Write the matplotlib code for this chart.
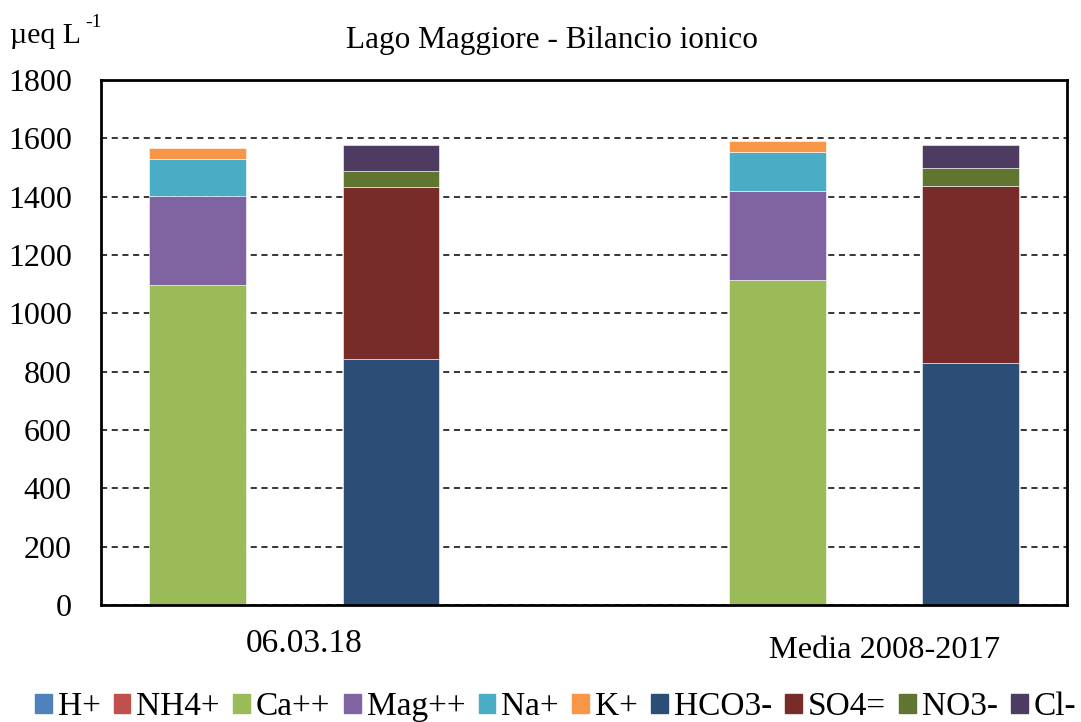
import matplotlib
matplotlib.use("Agg")
import matplotlib.pyplot as plt
from matplotlib.patches import Patch

plt.rcParams["font.family"] = ["Liberation Serif", "DejaVu Serif"]

# ionic balance, µeq/L
samples = ["06.03.18", "Media 2008-2017"]

cation_names = ["H+", "NH4+", "Ca++", "Mag++", "Na+", "K+"]
cations_0603 = [0.01, 1, 1097, 303, 129, 38]
cations_media = [0.01, 1, 1114, 305, 133, 39]

anion_names = ["HCO3-", "SO4=", "NO3-", "Cl-"]
anions_0603 = [843, 589, 58, 87]
anions_media = [830, 608, 59, 82]

cation_colors = ["#4F81BD", "#C0504D", "#9BBB59", "#8064A2", "#4BACC6", "#F79646"]
anion_colors = ["#2C4D75", "#772C2A", "#5F7530", "#4D3B62"]

fig = plt.figure(figsize=(10.81, 7.22), dpi=100)
ax = fig.add_axes([0.0934, 0.162, 0.894, 0.727])

cation_x = [0, 3]
anion_x = [1, 4]
width = 0.5


def stack(xs, columns, colors):
    bottoms = [0.0] * len(xs)
    for i, color in enumerate(colors):
        vals = [col[i] for col in columns]
        ax.bar(xs, vals, width, bottom=bottoms, color=color,
               edgecolor="white", linewidth=0.4, zorder=3)
        bottoms = [b + v for b, v in zip(bottoms, vals)]


stack(cation_x, [cations_0603, cations_media], cation_colors)
stack(anion_x, [anions_0603, anions_media], anion_colors)

ax.set_xlim(-0.5, 4.5)
ax.set_ylim(0, 1800)
ax.set_yticks(range(0, 1801, 200))
ax.set_xticks([])
ax.tick_params(axis="y", length=0, pad=21, labelsize=23)
ax.yaxis.grid(True, color="black", linestyle=(0, (4, 3)), linewidth=1.1, zorder=1)
for sp in ax.spines.values():
    sp.set_linewidth(2)
    sp.set_zorder(4)

# sample labels under each pair of bars
ax.text(0.55, -0.0895, samples[0], transform=ax.get_xaxis_transform(),
        ha="center", va="baseline", fontsize=24)
ax.text(3.555, -0.101, samples[1], transform=ax.get_xaxis_transform(),
        ha="center", va="baseline", fontsize=23.3)

fig.text(0.511, 0.9335, "Lago Maggiore - Bilancio ionico", ha="center",
         va="baseline", fontsize=22.5)
fig.text(0.009, 0.940, "µeq L", ha="left", va="baseline", fontsize=21.5)
fig.text(0.0785, 0.962, "-1", ha="left", va="baseline", fontsize=14)

handles = [Patch(color=c) for c in cation_colors + anion_colors]
fig.legend(handles, cation_names + anion_names, loc="center left",
           bbox_to_anchor=(0.02, 0.021), ncol=10, frameon=False,
           fontsize=24, handlelength=0.5, handleheight=0.5,
           handletextpad=0.18, columnspacing=0.4, borderaxespad=0)

fig.savefig("out.png", dpi=100)
